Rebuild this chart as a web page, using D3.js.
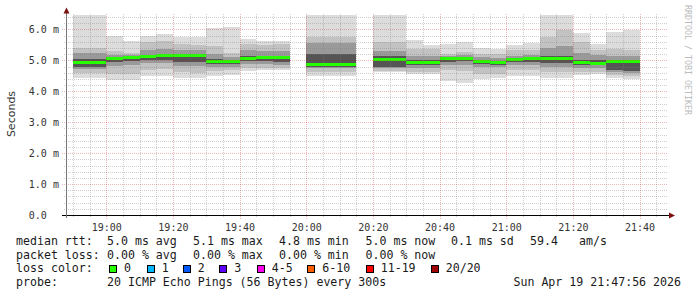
<!DOCTYPE html>
<html><head><meta charset="utf-8">
<script src="https://cdn.jsdelivr.net/npm/d3@7"></script>
<style>html,body{margin:0;padding:0;background:#fff;} svg{display:block}</style>
</head><body><svg id="c" width="697" height="297"></svg>
<script>
// interval start times (5 min steps)
const times = ["18:50","18:55","19:00","19:05","19:10","19:15","19:20","19:25","19:30","19:35","19:40","19:45","19:50","19:55",
  "20:00","20:05","20:10","20:15","20:20","20:25","20:30","20:35","20:40","20:45","20:50","20:55","21:00","21:05","21:10","21:15",
  "21:20","21:25","21:30","21:35"];
// smoke quantiles in ms (null = no data)
const hi  = [6.47,6.47,5.80,5.64,5.80,5.84,5.75,5.75,6.04,6.09,5.68,5.63,5.64,null,6.47,6.47,6.47,null,6.47,6.47,5.66,5.50,5.53,5.58,5.41,5.36,5.50,5.56,6.47,6.47,5.90,5.53,5.93,5.99];
const p90 = [5.39,5.39,5.29,5.25,5.60,5.62,5.52,5.50,5.45,5.25,5.52,5.50,5.52,null,5.77,5.77,5.77,null,5.60,5.60,5.38,5.38,5.22,5.28,5.22,5.22,5.32,5.34,5.75,5.98,5.58,5.33,5.38,5.34];
const p75 = [5.23,5.23,5.18,5.17,5.35,5.38,5.35,5.32,5.22,5.12,5.32,5.30,5.30,null,5.56,5.56,5.56,null,5.30,5.30,5.15,5.15,5.15,5.17,5.10,5.08,5.15,5.17,5.40,5.45,5.25,5.18,5.15,5.15];
const p60 = [5.05,5.05,5.10,5.12,5.18,5.20,5.18,5.18,5.05,5.02,5.15,5.14,5.15,null,5.20,5.20,5.20,null,5.15,5.15,5.00,5.00,5.08,5.10,5.00,4.98,5.06,5.08,5.15,5.15,5.02,5.00,5.02,5.02];
const med = [4.94,4.94,5.07,5.09,5.12,5.15,5.15,5.15,4.98,4.96,5.07,5.08,5.08,null,4.87,4.87,4.87,null,5.02,5.02,4.94,4.93,5.05,5.07,4.95,4.93,5.03,5.05,5.07,5.07,4.93,4.90,4.98,4.98];
const p40 = [4.78,4.78,4.95,4.98,5.02,5.02,4.95,4.95,4.88,4.88,4.98,4.98,4.96,null,4.80,4.80,4.80,null,4.80,4.80,4.85,4.85,4.95,4.97,4.88,4.86,4.94,4.95,4.92,4.92,4.85,4.84,4.70,4.66];
const p25 = [4.71,4.71,4.82,4.85,4.90,4.90,4.82,4.82,4.80,4.80,4.88,4.88,4.86,null,4.74,4.74,4.74,null,4.74,4.74,4.75,4.75,4.85,4.86,4.78,4.77,4.85,4.86,4.78,4.78,4.76,4.75,4.62,4.58];
const p10 = [4.58,4.58,4.55,4.55,4.70,4.72,4.62,4.60,4.65,4.68,4.75,4.76,4.74,null,4.64,4.64,4.64,null,4.66,4.66,4.62,4.62,4.70,4.65,4.55,4.55,4.70,4.70,4.64,4.64,4.63,4.63,4.52,4.48];
const lo  = [4.42,4.42,4.35,4.35,4.48,4.48,4.42,4.42,4.48,4.52,4.67,4.69,4.69,null,4.51,4.51,4.51,null,4.61,4.61,4.56,4.56,4.32,4.26,4.40,4.42,4.48,4.48,4.42,4.42,4.53,4.56,4.42,4.39];

const yTicks = [0,1,2,3,4,5,6];
const yTickLabels = ["0.0","1.0 m","2.0 m","3.0 m","4.0 m","5.0 m","6.0 m"];
const lossLabels = ["0","1","2","3","4-5","6-10","11-19","20/20"];
const lossColors = ["#26ff00","#00b8ff","#0059ff","#5e00ff","#ff00ea","#ff5e00","#ff0000","#a10000"];

const svg = d3.select("#c");
const parse = d3.timeParse("%Y-%m-%d %H:%M:%S");
const day = "2026-04-19 ";
const t0 = parse(day+"18:47:56"), t1 = parse(day+"21:47:56");
const x = d3.scaleTime().domain([t0,t1]).range([66,666]);
const y = d3.scaleLinear().domain([0,6.5]).range([215,14]);
const step = 5*60*1000;

const data = times.map((t,i)=>({t:parse(day+t+":00"),hi:hi[i],p90:p90[i],p75:p75[i],p60:p60[i],med:med[i],p40:p40[i],p25:p25[i],p10:p10[i],lo:lo[i]})).filter(d=>d.med!=null);

const bands = [["lo","hi","#dcdcdc"],["p10","p90","#c2c2c2"],["p25","p75","#9a9a9a"],["p40","p60","#555555"]];
const gData = svg.append("g").attr("shape-rendering","crispEdges");
bands.forEach(([a,b,c])=>{
  gData.selectAll(null).data(data).enter().append("rect")
    .attr("x",d=>x(d.t)).attr("width",d=>x(new Date(+d.t+step))-x(d.t))
    .attr("y",d=>y(d[b])).attr("height",d=>y(d[a])-y(d[b])).attr("fill",c);
});
gData.selectAll(null).data(data).enter().append("rect")
  .attr("x",d=>x(d.t)).attr("width",d=>x(new Date(+d.t+step))-x(d.t))
  .attr("y",d=>y(d.med)-1.5).attr("height",3).attr("fill",lossColors[0]);

// grid
const gGrid = svg.append("g");
const minorY = d3.range(1,33).map(i=>i*0.2).filter(v=>Math.abs(v-Math.round(v))>1e-6);
gGrid.selectAll(null).data(minorY).enter().append("line")
  .attr("x1",64).attr("x2",667).attr("y1",d=>Math.round(y(d))+0.5).attr("y2",d=>Math.round(y(d))+0.5)
  .attr("stroke","rgba(128,128,128,0.38)").attr("stroke-dasharray","1,1");
const minorX = d3.timeMinute.every(5).range(t0,t1).filter(d=>d.getMinutes()%20!==0);
gGrid.selectAll(null).data(minorX).enter().append("line")
  .attr("y1",14).attr("y2",217).attr("x1",d=>Math.round(x(d))+0.5).attr("x2",d=>Math.round(x(d))+0.5)
  .attr("stroke","rgba(128,128,128,0.38)").attr("stroke-dasharray","1,1");
gGrid.selectAll(null).data(yTicks.slice(1)).enter().append("line")
  .attr("x1",62).attr("x2",667).attr("y1",d=>Math.round(y(d))+0.5).attr("y2",d=>Math.round(y(d))+0.5)
  .attr("stroke","rgba(200,20,20,0.3)").attr("stroke-dasharray","1,1");
const majorX = d3.timeMinute.every(20).range(t0,t1);
gGrid.selectAll(null).data(majorX).enter().append("line")
  .attr("y1",14).attr("y2",219).attr("x1",d=>Math.round(x(d))+0.5).attr("x2",d=>Math.round(x(d))+0.5)
  .attr("stroke","rgba(200,20,20,0.3)").attr("stroke-dasharray","1,1");

// axes
const axisX = d3.axisBottom(x).tickValues(majorX).tickFormat(d3.timeFormat("%H:%M")).tickSize(0).tickPadding(9);
const gx = svg.append("g").attr("transform","translate(0,215)").call(axisX);
gx.select(".domain").remove();
gx.selectAll("text").attr("font-family","DejaVu Sans Mono").attr("font-size","10px").attr("fill","#333");
svg.append("line").attr("x1",62).attr("x2",670).attr("y1",215.5).attr("y2",215.5).attr("stroke","#000");
svg.append("path").attr("d","M669,212.5L675,215.5L669,218.5Z").attr("fill","#7a1010");
svg.append("line").attr("x1",66.5).attr("x2",66.5).attr("y1",218).attr("y2",12).attr("stroke","#777");
svg.append("path").attr("d","M63.5,13.5L66.5,7.5L69.5,13.5Z").attr("fill","#7a1010");

const axisY = d3.axisLeft(y).tickValues(yTicks).tickFormat((d,i)=>yTickLabels[i]).tickSize(0);
const gy = svg.append("g").call(axisY);
gy.select(".domain").remove();
gy.selectAll("text").attr("x",28.8).attr("text-anchor","start").attr("dy","0.32em")
  .attr("font-family","DejaVu Sans Mono").attr("font-size","10px").attr("fill","#333");

svg.append("text").attr("transform","translate(15,114) rotate(-90)").attr("text-anchor","middle")
  .attr("font-family","DejaVu Sans").attr("font-size","11px").attr("fill","#333").text("Seconds");
svg.append("text").attr("transform","translate(684.5,5) rotate(90)")
  .attr("font-family","DejaVu Sans Mono").attr("font-size","8.3px").attr("fill","#bbb").text("RRDTOOL / TOBI OETIKER");

// legend
const lg = svg.append("g").attr("font-family","DejaVu Sans Mono").attr("font-size","11.6px").attr("fill","#1a1a1a").attr("xml:space","preserve");
const rows = [244.8,258.5,272.1,285.8];
const items = [
  [16,rows[0],"median rtt:"],[107,rows[0],"5.0 ms avg"],[193,rows[0],"5.1 ms max"],[279,rows[0],"4.8 ms min"],
  [365.5,rows[0],"5.0 ms now"],[451,rows[0],"0.1 ms sd"],[530,rows[0],"59.4"],[579,rows[0],"am/s"],
  [16,rows[1],"packet loss:"],[107,rows[1],"0.00 % avg"],[193,rows[1],"0.00 % max"],[279,rows[1],"0.00 % min"],[365.5,rows[1],"0.00 % now"],
  [16,rows[2],"loss color:"],
  [16,rows[3],"probe:"],[107,rows[3],"20 ICMP Echo Pings (56 Bytes) every 300s"]
];
items.forEach(([tx,ty,s])=>lg.append("text").attr("x",tx).attr("y",ty).text(s));
lg.append("text").attr("x",681).attr("y",rows[3]).attr("text-anchor","end").text("Sun Apr 19 21:47:56 2026");
const boxX = [109,146.7,182.7,219.3,256.7,307.3,365.7,430.7];
lossLabels.forEach((l,i)=>{
  svg.append("rect").attr("x",Math.round(boxX[i])+0.5).attr("y",265.5).attr("width",7).attr("height",7)
    .attr("fill",lossColors[i]).attr("stroke","#000");
  lg.append("text").attr("x",boxX[i]+15).attr("y",rows[2]).text(l);
});
</script></body></html>
